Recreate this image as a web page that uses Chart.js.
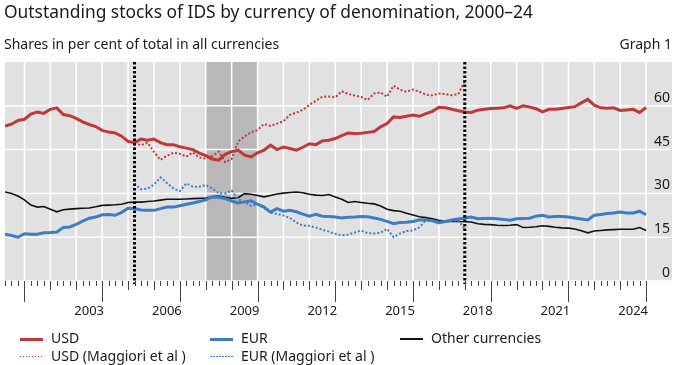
<!DOCTYPE html>
<html><head><meta charset="utf-8">
<script src="https://cdn.jsdelivr.net/npm/chart.js@4"></script>
<style>
html,body{margin:0;padding:0;background:#fff;}
#wrap{position:relative;width:679px;height:365px;overflow:hidden;font-family:"Noto Sans",sans-serif;color:#1a1a1a;}
#c{position:absolute;left:0;top:0;}
.t{position:absolute;white-space:nowrap;line-height:1;}
.lg{position:absolute;white-space:nowrap;font-size:14px;line-height:1;}
.sw{position:absolute;width:23px;}
</style></head><body>
<div id="wrap">
<canvas id="c" width="679" height="365"></canvas>
<div class="t" style="left:4px;top:3px;font-size:17.4px;">Outstanding stocks of IDS by currency of denomination, 2000–24</div>
<div class="t" style="left:4px;top:37px;font-size:14px;">Shares in per cent of total in all currencies</div>
<div class="t" style="right:7px;top:37px;font-size:14px;">Graph 1</div>

<div class="sw" style="left:20px;top:337.5px;height:3px;background:#c0393a;"></div>
<div class="lg" style="left:51px;top:331px;">USD</div>
<div class="sw" style="left:210px;top:337.5px;height:3px;background:#3f7cc4;"></div>
<div class="lg" style="left:241px;top:331px;">EUR</div>
<div class="sw" style="left:400px;top:338px;height:2px;background:#111;"></div>
<div class="lg" style="left:431px;top:331px;">Other currencies</div>

<div class="sw" style="left:20px;top:355.5px;height:1.2px;background:repeating-linear-gradient(to right,#c0393a 0,#c0393a 1.5px,transparent 1.5px,transparent 3px);"></div>
<div class="lg" style="left:51px;top:348.5px;">USD (Maggiori et al )</div>
<div class="sw" style="left:210px;top:355.5px;height:1.2px;background:repeating-linear-gradient(to right,#3f7cc4 0,#3f7cc4 1.5px,transparent 1.5px,transparent 3px);"></div>
<div class="lg" style="left:241px;top:348.5px;">EUR (Maggiori et al )</div>
</div>
<script>
// ---- data (quarterly, 2000 Q1 .. 2024 Q4, plotted at quarter end) ----
const firstQuarter = 2000.25;
const maggioriStartIndex = 20; // 2005 Q1

const usd = [
53.1,53.7,55.0,55.4,57.2,57.9,57.4,58.8,59.3,57.0,
56.6,55.7,54.5,53.6,52.9,51.6,51.0,50.7,49.6,47.8,
47.4,48.6,48.2,48.6,47.4,46.7,46.7,46.0,45.5,45.0,
43.8,42.9,41.8,41.4,43.4,44.3,44.8,43.1,42.5,43.9,
44.8,46.5,45.0,45.9,45.4,44.8,45.8,47.0,46.7,48.0,
48.2,48.8,49.8,50.7,50.5,50.6,50.9,51.2,52.8,53.9,
56.2,56.0,56.4,56.8,56.4,57.3,58.1,59.5,59.3,58.8,
58.3,57.9,57.7,58.5,58.8,59.1,59.2,59.3,60.0,59.1,
60.0,59.6,59.0,57.9,58.8,58.8,59.1,59.4,59.7,61.0,
62.2,60.2,59.3,59.2,59.3,58.4,58.6,58.8,57.7,59.4];

const eur = [
16.0,15.6,15.0,16.2,16.0,16.0,16.5,16.6,16.8,18.3,
18.5,19.4,20.5,21.5,21.9,22.7,22.8,22.5,23.5,24.9,
24.8,24.3,24.2,24.2,24.8,25.3,25.3,25.8,26.3,26.7,
27.2,27.8,28.8,28.7,28.2,27.4,26.7,27.1,27.5,26.3,
25.3,23.6,24.8,23.9,24.2,23.7,22.9,22.2,22.8,22.2,
22.1,21.9,21.6,21.8,21.9,22.1,22.0,21.6,21.1,20.4,
19.6,20.0,20.1,20.4,21.0,20.9,20.6,20.0,20.4,20.9,
21.2,21.6,21.9,21.3,21.4,21.5,21.3,21.1,20.8,21.3,
21.4,21.5,22.2,22.5,21.9,22.1,22.1,21.9,21.6,21.2,
20.9,22.5,22.8,23.1,23.3,23.6,23.3,23.3,23.9,22.7];

const other = [
30.5,30.0,29.1,27.8,26.0,25.3,25.5,24.6,23.7,24.4,
24.6,24.8,24.9,25.0,25.4,25.9,26.0,26.1,26.3,26.9,
27.0,27.0,27.2,27.4,27.7,28.0,28.0,28.0,28.1,28.2,
28.3,28.4,28.8,29.1,28.7,28.3,28.5,29.9,29.7,29.3,
28.8,29.3,29.8,30.1,30.3,30.5,30.2,29.7,29.4,29.3,
29.6,28.8,28.0,26.9,27.2,26.9,26.6,26.4,25.7,24.6,
24.1,23.9,23.2,22.6,22.0,21.7,21.3,20.8,20.4,20.5,
20.4,20.3,20.2,19.6,19.4,19.3,19.1,19.0,19.1,19.3,
18.3,18.4,18.6,18.9,18.7,18.4,18.2,18.1,17.8,17.2,
16.5,17.1,17.3,17.5,17.6,17.7,17.7,17.7,18.3,17.3];

const usdMaggiori = [
47.4,46.5,47.4,44.2,41.5,42.9,43.9,43.6,42.6,44.0,
42.3,41.9,42.8,44.3,40.7,41.8,47.8,49.5,50.9,51.7,
53.8,53.1,53.9,54.7,56.9,57.7,58.6,60.3,61.7,63.1,
63.2,62.9,65.0,64.1,63.5,63.0,62.0,64.2,64.6,63.1,
66.9,65.5,64.8,65.6,64.8,63.8,63.6,64.2,64.0,63.6,
64.0,68.5];

const eurMaggiori = [
33.4,31.4,31.6,33.0,35.5,33.6,31.7,30.8,33.4,32.3,
32.3,32.9,31.7,30.1,30.0,31.0,28.0,27.0,25.7,26.3,
25.0,23.4,23.0,22.4,21.6,20.0,19.0,18.9,18.3,17.6,
16.9,16.2,15.6,15.9,16.6,17.3,16.4,16.3,16.5,17.9,
15.0,16.3,17.1,17.3,18.4,20.9,20.7,20.2,20.4,20.6,
20.8,17.8];

const yTicks = [0, 15, 30, 45, 60, 75];
const yearLabels = [2003, 2006, 2009, 2012, 2015, 2018, 2021, 2024];
const shadeRange = [2008, 2010];
const markerLines = [2005.25, 2018.0];
const xMin = 2000.25, xMax = 2026, lastTick = 2025;

const RED = '#c0393a', BLUE = '#3f7cc4', BLACK = '#111111';

function toPoints(arr, offset) {
  return arr.map((v, i) => ({x: firstQuarter + (i + offset) * 0.25, y: v}));
}

const quarterTicks = [];
for (let q = 8001; q / 4 <= lastTick; q++) quarterTicks.push(q / 4);

const decor = {
  id: 'decor',
  beforeDatasetsDraw(chart) {
    const {ctx, chartArea: a, scales: {x, y}} = chart;
    ctx.save();
    ctx.fillStyle = '#e1e1e1';
    ctx.fillRect(a.left, a.top, a.right - a.left, a.bottom - a.top);
    const s0 = x.getPixelForValue(shadeRange[0]), s1 = x.getPixelForValue(shadeRange[1]);
    ctx.fillStyle = '#b8b8b8';
    ctx.fillRect(s0, a.top, s1 - s0, a.bottom - a.top);
    ctx.strokeStyle = '#ffffff';
    ctx.lineWidth = 1.5;
    yTicks.forEach(v => {
      if (v === 75) return;
      const py = y.getPixelForValue(v);
      ctx.beginPath(); ctx.moveTo(a.left, py); ctx.lineTo(a.right, py); ctx.stroke();
    });
    quarterTicks.forEach(v => {
      if (!Number.isInteger(v)) return;
      const px = x.getPixelForValue(v);
      ctx.beginPath(); ctx.moveTo(px, a.top); ctx.lineTo(px, a.bottom); ctx.stroke();
    });
    // y tick labels sit just above their grid lines (drawn from the y scale)
    ctx.fillStyle = '#1a1a1a';
    ctx.font = '14px "Noto Sans"';
    ctx.textAlign = 'right';
    ctx.textBaseline = 'middle';
    y.ticks.forEach(t => {
      if (t.value === 75) return;
      ctx.fillText(String(t.value), a.right - 2, y.getPixelForValue(t.value) - 8);
    });
    ctx.restore();
  },
  afterDatasetsDraw(chart) {
    const {ctx, chartArea: a, scales: {x}} = chart;
    ctx.save();
    ctx.strokeStyle = '#000';
    ctx.lineWidth = 3;
    ctx.setLineDash([2.5, 2]);
    markerLines.forEach(v => {
      const px = x.getPixelForValue(v);
      ctx.beginPath(); ctx.moveTo(px, a.top); ctx.lineTo(px, a.bottom + 3); ctx.stroke();
    });
    ctx.restore();
  },
  afterDraw(chart) {
    const {ctx, chartArea: a, scales: {x}} = chart;
    ctx.save();
    ctx.strokeStyle = '#444';
    ctx.lineWidth = 1;
    quarterTicks.forEach(v => {
      let len = 5;
      if (Number.isInteger(v)) len = ((v - 2001) % 3 === 0) ? 21 : 9;
      const px = Math.round(x.getPixelForValue(v)) + 0.5;
      ctx.beginPath(); ctx.moveTo(px, a.bottom); ctx.lineTo(px, a.bottom + len); ctx.stroke();
    });
    ctx.restore();
  }
};

const lineDs = (label, data, color, width, dash) => ({
  label, data, borderColor: color, backgroundColor: color, borderWidth: width,
  borderDash: dash || [], pointRadius: 0, tension: 0, fill: false, borderCapStyle: 'butt'
});

new Chart(document.getElementById('c'), {
  type: 'line',
  data: {
    datasets: [
      lineDs('USD (Maggiori et al )', toPoints(usdMaggiori, maggioriStartIndex), RED, 2, [2, 2]),
      lineDs('EUR (Maggiori et al )', toPoints(eurMaggiori, maggioriStartIndex), BLUE, 2, [2, 2]),
      lineDs('USD', toPoints(usd, 0), RED, 3),
      lineDs('EUR', toPoints(eur, 0), BLUE, 3),
      lineDs('Other currencies', toPoints(other, 0), BLACK, 1.6)
    ]
  },
  plugins: [decor],
  options: {
    responsive: false,
    animation: false,
    devicePixelRatio: 1,
    layout: {padding: {left: 5, right: 7, top: 62, bottom: 44}},
    plugins: {legend: {display: false}, tooltip: {enabled: false}},
    scales: {
      x: {
        type: 'linear', min: xMin, max: xMax,
        afterBuildTicks: s => { s.ticks = quarterTicks.map(v => ({value: v})); },
        afterFit: s => { s.height = 40; s.paddingLeft = 0; s.paddingRight = 0; },
        grid: {display: true, drawOnChartArea: false, drawTicks: true, tickLength: 22, tickColor: 'rgba(0,0,0,0)', color: 'rgba(0,0,0,0)'},
        border: {display: false},
        ticks: {
          autoSkip: false, maxRotation: 0, minRotation: 0, padding: 0,
          color: '#1a1a1a', font: {family: 'Noto Sans', size: 13},
          callback: v => {
            const y = Math.floor(v);
            return (v - y === 0.5 && yearLabels.includes(y)) ? String(y) : '';
          }
        }
      },
      y: {
        position: 'right', min: 0, max: 75,
        afterBuildTicks: s => { s.ticks = yTicks.map(v => ({value: v})); },
        afterFit: s => { s.width = 0; },
        grid: {display: false, drawTicks: false},
        border: {display: false},
        ticks: {display: false}
      }
    }
  }
});
</script>
</body></html>
